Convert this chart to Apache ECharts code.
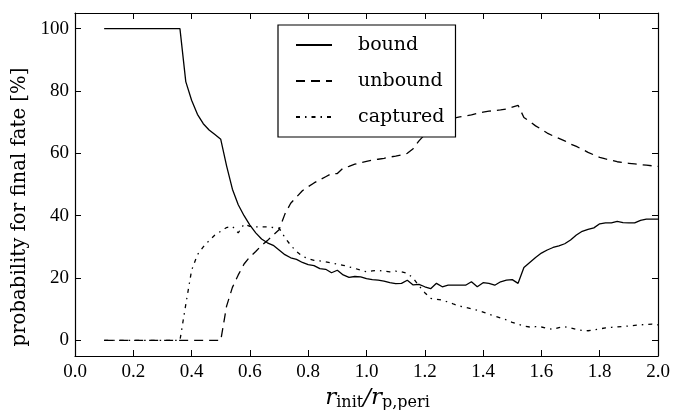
<!DOCTYPE html>
<html>
<head>
<meta charset="utf-8">
<script src="https://cdn.jsdelivr.net/npm/echarts@6/dist/echarts.min.js"></script>
<style>
html,body{margin:0;padding:0;background:#fff;}
#chart{width:674px;height:410px;}
</style>
</head>
<body>
<div id="chart"></div>
<script>
var xs = [0.10,0.12,0.14,0.16,0.18,0.20,0.22,0.24,0.26,0.28,0.30,0.32,0.34,0.36,0.38,0.40,0.42,0.44,0.46,0.48,
0.50,0.52,0.54,0.56,0.58,0.60,0.62,0.64,0.66,0.68,0.70,0.72,0.74,0.76,0.78,0.80,0.82,0.84,0.86,0.88,
0.90,0.92,0.94,0.96,0.98,1.00,1.02,1.04,1.06,1.08,1.10,1.12,1.14,1.16,1.18,1.20,1.22,1.24,1.26,1.28,
1.30,1.32,1.34,1.36,1.38,1.40,1.42,1.44,1.46,1.48,1.50,1.52,1.54,1.56,1.58,1.60,1.62,1.64,1.66,1.68,
1.70,1.72,1.74,1.76,1.78,1.80,1.82,1.84,1.86,1.88,1.90,1.92,1.94,1.96,1.98,2.00];

var bound = [100,100,100,100,100,100,100,100,100,100,100,100,100,100,83,77,72.5,69.5,67.5,66,
64.5,56,48.5,43.5,40,37,34.5,32.5,31.3,30.5,29,27.5,26.5,26,25,24.3,24,23,22.8,21.7,
22.5,21,20.2,20.5,20.4,19.8,19.5,19.3,19,18.5,18.2,18.3,19.3,17.8,18,17.2,16.6,18.3,17.2,17.7,
17.7,17.7,17.7,18.8,17.2,18.5,18.3,17.7,18.8,19.3,19.5,18.3,23.4,25,26.6,28,29,29.8,30.3,31,
32.2,33.8,35,35.6,36.1,37.4,37.7,37.7,38.2,37.8,37.7,37.7,38.5,38.9,38.9,38.9];

var unbound = [0,0,0,0,0,0,0,0,0,0,0,0,0,0,0,0,0,0,0,0,
0,11,17,21,24.5,26.8,28.5,30.5,32,33.8,35.5,40.5,44,46,48,49.3,50.5,51.5,52.5,53.5,
53.5,55.3,55.8,56.5,57,57.4,57.8,58.1,58.4,58.8,59.1,59.5,60,61.5,64,66,68,69.5,70.5,71,
71.3,71.7,72,72.3,72.8,73.2,73.5,73.7,73.9,74.2,74.8,75.4,71.5,70.2,68.8,67.7,66.5,65.6,64.8,64,
63,62.2,61.3,60.3,59.5,58.7,58.2,57.8,57.3,57,56.8,56.6,56.4,56.2,56,55.8];

var captured = [0,0,0,0,0,0,0,0,0,0,0,0,0,0,11.5,22.5,27.5,30,32,33.8,
35,36.2,36.6,34.5,37.3,36.6,36.4,36.4,36.4,36.2,36,33,30.5,28.5,27,26.2,25.7,25.5,25.2,24.8,
24.5,24.1,23.6,23.1,22.5,22,22.3,22.5,22.2,22,22.2,22,21.5,20,17.5,15.3,13.5,13.2,12.9,12.3,
11.6,11,10.6,10.1,9.7,9.1,8.4,7.8,7.2,6.6,5.8,5.2,4.6,4.3,4.4,4.3,3.9,3.5,4.1,4.4,
4,3.5,3.2,3.1,3.4,3.7,4,4.2,4.3,4.5,4.6,4.8,5,5.1,5.2,5];

var seriesNames = ['bound','unbound','captured'];
var yTicks = [0,20,40,60,80,100];

function pairs(ys){ return xs.map(function(x,i){ return [x, ys[i]]; }); }

var FONT = '"Liberation Serif", "DejaVu Serif", serif';
var TFONT = '"DejaVu Serif", "Liberation Serif", serif';
var chart = echarts.init(document.getElementById('chart'), null, {renderer:'canvas'});

var lineW = 1.3;
var option = {
  animation: false,
  backgroundColor: '#fff',
  grid: {left: 75, right: 16, top: 13, bottom: 54, containLabel: false, outerBoundsMode: 'none'},
  legend: {
    orient: 'vertical',
    left: 278, top: 25,
    width: 177,
    padding: [8, 11, 8, 17],
    itemGap: 12,
    itemWidth: 36, itemHeight: 14,
    backgroundColor: '#fff',
    borderColor: '#000', borderWidth: 1.2, borderRadius: 0,
    itemStyle: {opacity: 0},
    textStyle: {fontFamily: TFONT, fontSize: 19, color: '#000', lineHeight: 24, padding: [0,0,0,21]},
    data: seriesNames
  },
  xAxis: [{
    type: 'value', min: 0, max: 2, interval: 0.2, position: 'bottom',
    axisLine: {show: true, onZero: false, lineStyle: {color: '#000', width: 1.2}},
    axisTick: {show: true, inside: true, length: 6, lineStyle: {color: '#000', width: 1}},
    splitLine: {show: false},
    axisLabel: {color: '#000', fontFamily: FONT, fontSize: 19, margin: 7,
      formatter: function(v){ return v.toFixed(1); }},
    name: '{i|r}{s|init}{n|/}{i|r}{s|p,peri}',
    nameLocation: 'middle', nameGap: 30,
    nameTextStyle: {
      color: '#000', fontFamily: TFONT, fontSize: 19, padding: [0,0,0,22],
      rich: {
        i: {fontFamily: TFONT, fontStyle: 'italic', fontSize: 23, color: '#000'},
        n: {fontFamily: TFONT, fontStyle: 'italic', fontSize: 23, color: '#000'},
        s: {fontFamily: TFONT, fontSize: 16, color: '#000', padding: [9,0,0,0]}
      }
    }
  }, {
    type: 'value', min: 0, max: 2, interval: 0.2, position: 'top',
    axisLine: {show: true, onZero: false, lineStyle: {color: '#000', width: 1.2}},
    axisTick: {show: true, inside: true, length: 6, lineStyle: {color: '#000', width: 1}},
    splitLine: {show: false}, axisLabel: {show: false}
  }],
  yAxis: [{
    type: 'value', min: -5, max: 105, position: 'left',
    axisLine: {show: true, onZero: false, lineStyle: {color: '#000', width: 1.2}},
    axisTick: {show: true, inside: true, length: 6, customValues: yTicks, lineStyle: {color: '#000', width: 1}},
    splitLine: {show: false},
    axisLabel: {color: '#000', fontFamily: FONT, fontSize: 19, margin: 6, customValues: yTicks},
    name: 'probability for final fate [%]',
    nameLocation: 'middle', nameGap: 39, nameRotate: 90,
    nameTextStyle: {color: '#000', fontFamily: TFONT, fontSize: 19.7, padding: [0, 45, 0, 0]}
  }, {
    type: 'value', min: -5, max: 105, position: 'right',
    axisLine: {show: true, onZero: false, lineStyle: {color: '#000', width: 1.2}},
    axisTick: {show: true, inside: true, length: 6, customValues: yTicks, lineStyle: {color: '#000', width: 1}},
    splitLine: {show: false}, axisLabel: {show: false}
  }],
  series: [{
    name: seriesNames[0], type: 'line', data: pairs(bound), symbol: 'none', showSymbol: false,
    lineStyle: {color: '#000', width: lineW, type: 'solid'}, itemStyle: {color: '#000'}
  }, {
    name: seriesNames[1], type: 'line', data: pairs(unbound), symbol: 'none', showSymbol: false,
    lineStyle: {color: '#000', width: lineW, type: [9, 6]}, itemStyle: {color: '#000'}
  }, {
    name: seriesNames[2], type: 'line', data: pairs(captured), symbol: 'none', showSymbol: false,
    lineStyle: {color: '#000', width: lineW, type: [4, 5, 1.5, 5]}, itemStyle: {color: '#000'}
  }]
};
chart.setOption(option);
</script>
</body>
</html>
